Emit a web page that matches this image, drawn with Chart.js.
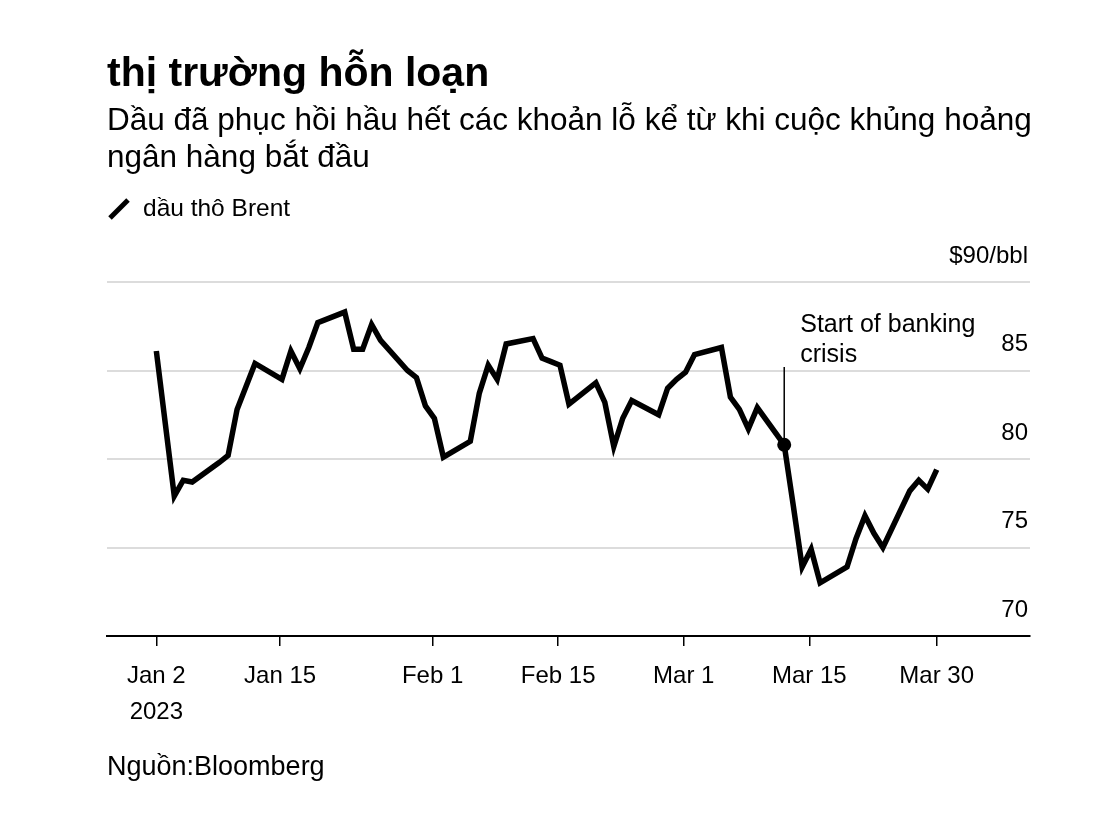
<!DOCTYPE html>
<html lang="vi">
<head>
<meta charset="utf-8">
<title>thị trường hỗn loạn</title>
<script src="https://cdn.jsdelivr.net/npm/chart.js@4.4.1/dist/chart.umd.min.js"></script>
<style>
  html, body { margin: 0; padding: 0; background: #fff; }
  body { width: 1100px; height: 834px; position: relative; overflow: hidden;
         font-family: 'Liberation Sans', Arial, Helvetica, sans-serif; color: #000; }
  #chart { position: absolute; left: 0; top: 0; }
  .txt { position: absolute; left: 107px; white-space: nowrap; }
  .title { top: 48px; font-size: 41px; line-height: 48px; font-weight: bold; }
  .subtitle { top: 101px; font-size: 31.5px; line-height: 37px; }
  .legend { top: 194px; left: 107px; font-size: 24.5px; line-height: 28px; }
  .legend svg { position: absolute; left: 0; top: 2px; }
  .legend span { position: absolute; left: 36px; top: 0; }
  .source { top: 751px; font-size: 27px; line-height: 30px; }
</style>
</head>
<body>
<canvas id="chart" width="1100" height="834"></canvas>
<div class="txt title">thị trường hỗn loạn</div>
<div class="txt subtitle">Dầu đã phục hồi hầu hết các khoản lỗ kể từ khi cuộc khủng hoảng<br>ngân hàng bắt đầu</div>
<div class="txt legend">
  <svg width="30" height="26"><line x1="3" y1="22" x2="21" y2="4" stroke="#000" stroke-width="5"/></svg>
  <span>dầu thô Brent</span>
</div>
<div class="txt source">Nguồn:Bloomberg</div>

<script>
// Brent crude, daily close (USD per barrel).
var DATES = [
  '2023-01-02', '2023-01-03', '2023-01-04', '2023-01-05', '2023-01-06',
  '2023-01-09', '2023-01-10', '2023-01-11', '2023-01-12', '2023-01-13',
  '2023-01-16', '2023-01-17', '2023-01-18', '2023-01-19', '2023-01-20',
  '2023-01-23', '2023-01-24', '2023-01-25', '2023-01-26', '2023-01-27',
  '2023-01-30', '2023-01-31', '2023-02-01', '2023-02-02', '2023-02-03',
  '2023-02-06', '2023-02-07', '2023-02-08', '2023-02-09', '2023-02-10',
  '2023-02-13', '2023-02-14', '2023-02-15', '2023-02-16', '2023-02-17',
  '2023-02-20', '2023-02-21', '2023-02-22', '2023-02-23', '2023-02-24',
  '2023-02-27', '2023-02-28', '2023-03-01', '2023-03-02', '2023-03-03',
  '2023-03-06', '2023-03-07', '2023-03-08', '2023-03-09', '2023-03-10',
  '2023-03-13', '2023-03-14', '2023-03-15', '2023-03-16', '2023-03-17',
  '2023-03-20', '2023-03-21', '2023-03-22', '2023-03-23', '2023-03-24',
  '2023-03-27', '2023-03-28', '2023-03-29', '2023-03-30'
];
var BRENT = [
  86.1, 82.0, 77.9, 78.8, 78.7,
  79.8, 80.2, 82.8, 84.1, 85.4,
  84.5, 86.1, 85.1, 86.3, 87.7,
  88.3, 86.2, 86.2, 87.6, 86.7,
  85.0, 84.6, 83.0, 82.3, 80.1,
  81.0, 83.7, 85.3, 84.5, 86.5,
  86.8, 85.7, 85.5, 85.3, 83.1,
  84.3, 83.2, 80.7, 82.3, 83.3,
  82.5, 84.0, 84.5, 84.9, 85.9,
  86.3, 83.5, 82.8, 81.7, 82.9,
  80.8, 77.4, 73.9, 74.9, 73.0,
  73.9, 75.5, 76.8, 75.8, 75.0,
  78.2, 78.8, 78.3, 79.4
];

// x axis ticks
var TICK_DATES = ['2023-01-02', '2023-01-15', '2023-02-01', '2023-02-15', '2023-03-01', '2023-03-15', '2023-03-30'];
var TICK_LABELS = [['Jan 2', '2023'], 'Jan 15', 'Feb 1', 'Feb 15', 'Mar 1', 'Mar 15', 'Mar 30'];

// y axis ticks
var Y_TICKS = [70, 75, 80, 85, 90];
var Y_UNIT_LABEL = '$90/bbl';

// annotation
var CRISIS_DATE = '2023-03-13';
var CRISIS_TEXT = ['Start of banking', 'crisis'];
var CRISIS_LINE_TOP = 85.2;

var FONT = "'Liberation Sans', Arial, Helvetica, sans-serif";
var START = Date.parse(DATES[0]);

/**
 * @description Day number counted from the first date.
 */
function dayOf(iso) {
  return (Date.parse(iso) - START) / 86400000;
}

/**
 * @description Vertical marker with its label, drawn on the crisis point.
 */
var crisisMarker = {
  id: 'crisisMarker',
  beforeDatasetsDraw: function (chart) {
    var ctx = chart.ctx;
    var idx = DATES.indexOf(CRISIS_DATE);
    var pt = chart.getDatasetMeta(0).data[idx];
    var top = chart.scales.y.getPixelForValue(CRISIS_LINE_TOP);

    ctx.save();
    ctx.strokeStyle = '#000';
    ctx.lineWidth = 1.5;
    ctx.beginPath();
    ctx.moveTo(pt.x, pt.y);
    ctx.lineTo(pt.x, top);
    ctx.stroke();

    ctx.fillStyle = '#000';
    ctx.font = '25px ' + FONT;
    ctx.textAlign = 'left';
    ctx.textBaseline = 'alphabetic';
    ctx.fillText(CRISIS_TEXT[0], pt.x + 16, top - 35);
    ctx.fillText(CRISIS_TEXT[1], pt.x + 16, top - 5);
    ctx.restore();
  }
};

/**
 * @description Draw the chart.
 */
function drawChart() {
  var crisisIndex = DATES.indexOf(CRISIS_DATE);
  var points = DATES.map(function (d, i) {
    return { x: dayOf(d), y: BRENT[i] };
  });
  var tickDays = TICK_DATES.map(dayOf);

  Chart.defaults.font.family = FONT;
  Chart.defaults.color = '#000';

  return new Chart(document.getElementById('chart'), {
    type: 'line',
    data: {
      datasets: [{
        label: 'dầu thô Brent',
        data: points,
        borderColor: '#000',
        borderWidth: 5.5,
        borderJoinStyle: 'miter',
        borderCapStyle: 'butt',
        tension: 0,
        fill: false,
        pointRadius: function (c) { return c.dataIndex === crisisIndex ? 7 : 0; },
        pointHoverRadius: function (c) { return c.dataIndex === crisisIndex ? 7 : 0; },
        pointBackgroundColor: '#000',
        pointBorderWidth: 0
      }]
    },
    options: {
      responsive: false,
      animation: false,
      events: [],
      devicePixelRatio: 1,
      layout: { padding: { left: 107, right: 70, top: 282, bottom: 98 } },
      plugins: {
        legend: { display: false },
        tooltip: { enabled: false },
        title: { display: false }
      },
      scales: {
        x: {
          type: 'linear',
          min: -5.5,
          max: 97.4,
          afterFit: function (scale) { scale.height = 100; },
          afterBuildTicks: function (scale) {
            // inner ticks sit a little after midnight in the original, ends sit on the data ends
            scale.ticks = tickDays.map(function (d, i) {
              var inner = i > 0 && i < tickDays.length - 1;
              return { value: inner ? d + 0.8 : d };
            });
          },
          grid: {
            drawOnChartArea: false,
            drawTicks: true,
            tickLength: 10,
            color: '#000',
            lineWidth: 1.5
          },
          border: { display: true, color: '#000', width: 2 },
          ticks: {
            autoSkip: false,
            maxRotation: 0,
            padding: 12,
            font: { size: 24, lineHeight: 1.5 },
            color: '#000',
            callback: function (value, index) { return TICK_LABELS[index]; }
          }
        },
        y: {
          position: 'right',
          min: Y_TICKS[0],
          max: Y_TICKS[Y_TICKS.length - 1],
          afterFit: function (scale) { scale.width = 0; },
          afterBuildTicks: function (scale) {
            scale.ticks = Y_TICKS.map(function (v) { return { value: v }; });
          },
          grid: { drawTicks: false, color: '#dcdcdc', lineWidth: 2 },
          border: { display: false },
          ticks: {
            mirror: true,
            padding: -2,
            labelOffset: -26,
            font: { size: 24 },
            color: '#000',
            callback: function (value) {
              return value === Y_TICKS[Y_TICKS.length - 1] ? Y_UNIT_LABEL : String(value);
            }
          }
        }
      }
    },
    plugins: [crisisMarker]
  });
}

drawChart();
</script>
</body>
</html>
